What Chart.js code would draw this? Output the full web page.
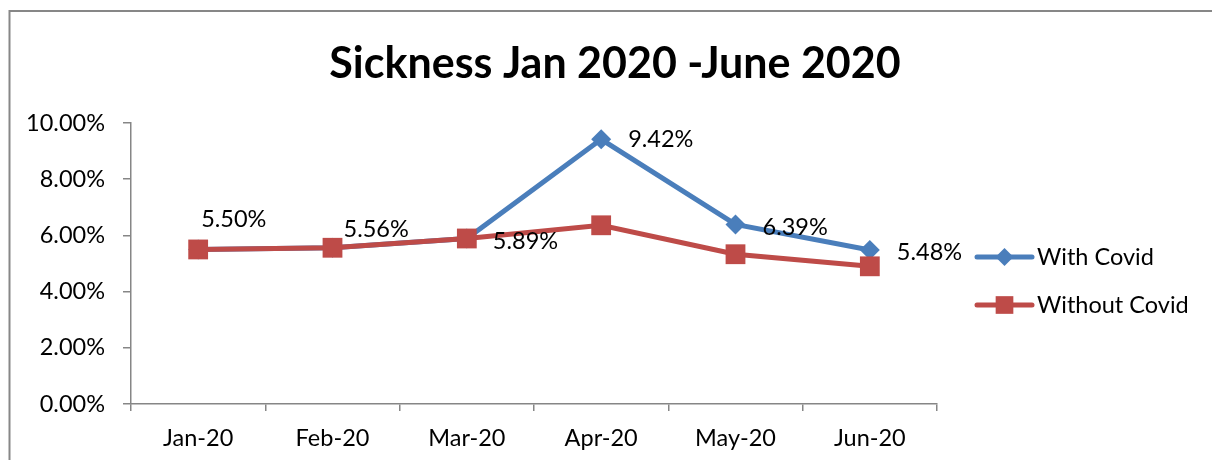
<!DOCTYPE html>
<html>
<head>
<meta charset="utf-8">
<title>Sickness Jan 2020 - June 2020</title>
<script src="https://cdn.jsdelivr.net/npm/chart.js@4"></script>
<style>
  html, body { margin: 0; padding: 0; background: #fff; }
  canvas { display: block; }
</style>
</head>
<body>
<canvas id="sicknessChart" width="1212" height="460"></canvas>
<script>
const months = ['Jan-20', 'Feb-20', 'Mar-20', 'Apr-20', 'May-20', 'Jun-20'];
const withCovid = [5.50, 5.56, 5.89, 9.42, 6.39, 5.48];
const withoutCovid = [5.50, 5.56, 5.89, 6.36, 5.33, 4.90];
const yTicks = [0, 2, 4, 6, 8, 10];
const chartTitle = 'Sickness Jan 2020 -June 2020';

const FONT = 'Lato, "Noto Sans", sans-serif';
const TEXT_SIZE = 23.5;
const axisGrey = '#868686';
const blue = '#4A7EBB';
const red = '#BE4B48';

// value label placement relative to its point: [dx to left edge, dy to middle]
const labelOffsets = [[3, -30], [11, -18], [26, 3], [27, 0], [27, 3], [27, 2]];

const pct = v => Number(v).toFixed(2) + '%';

// grey frame around the whole chart, plus the title centred on the page
const frame = {
  id: 'frame',
  beforeDraw(chart) {
    const ctx = chart.ctx;
    ctx.save();
    ctx.fillStyle = '#fff';
    ctx.fillRect(0, 0, chart.width, chart.height);
    ctx.strokeStyle = '#878787';
    ctx.lineWidth = 2;
    ctx.strokeRect(9.5, 11, chart.width + 20, chart.height + 20);
    ctx.fillStyle = '#000';
    ctx.font = 'bold 43px ' + FONT;
    ctx.textAlign = 'center';
    ctx.textBaseline = 'middle';
    ctx.fillText(chartTitle, 615, 64);
    ctx.restore();
  }
};

// percentages next to the "With Covid" points
const valueLabels = {
  id: 'valueLabels',
  afterDatasetsDraw(chart) {
    const ctx = chart.ctx;
    const meta = chart.getDatasetMeta(0);
    ctx.save();
    ctx.font = TEXT_SIZE + 'px ' + FONT;
    ctx.fillStyle = '#000';
    ctx.textAlign = 'left';
    ctx.textBaseline = 'middle';
    meta.data.forEach((pt, i) => {
      const [dx, dy] = labelOffsets[i];
      ctx.fillText(pct(withCovid[i]), pt.x + dx, pt.y + dy);
    });
    ctx.restore();
  }
};

function marker(ctx, style, x, y, r) {
  ctx.beginPath();
  if (style === 'rectRot') {
    ctx.moveTo(x, y - r);
    ctx.lineTo(x + r, y);
    ctx.lineTo(x, y + r);
    ctx.lineTo(x - r, y);
  } else {
    const h = r * Math.SQRT1_2;
    ctx.rect(x - h, y - h, 2 * h, 2 * h);
  }
  ctx.closePath();
  ctx.fill();
}

// legend on the right: line with marker, then the name
const sideLegend = {
  id: 'sideLegend',
  afterDraw(chart) {
    const ctx = chart.ctx;
    const area = chart.chartArea;
    const x0 = area.right + 40, x1 = x0 + 55;
    ctx.save();
    chart.data.datasets.forEach((ds, i) => {
      const y = area.top + 134 + i * 48;
      ctx.strokeStyle = ds.borderColor;
      ctx.fillStyle = ds.borderColor;
      ctx.lineWidth = 5;
      ctx.lineCap = 'round';
      ctx.beginPath();
      ctx.moveTo(x0, y);
      ctx.lineTo(x1, y);
      ctx.stroke();
      marker(ctx, ds.pointStyle, (x0 + x1) / 2, y, ds.pointStyle === 'rectRot' ? 9 : 12.5);
      ctx.fillStyle = '#000';
      ctx.font = TEXT_SIZE + 'px ' + FONT;
      ctx.textAlign = 'left';
      ctx.textBaseline = 'middle';
      ctx.fillText(ds.label, x1 + 5, y);
    });
    ctx.restore();
  }
};

new Chart(document.getElementById('sicknessChart'), {
  type: 'line',
  data: {
    labels: months,
    datasets: [
      {
        label: 'With Covid',
        data: withCovid,
        borderColor: blue,
        backgroundColor: blue,
        borderWidth: 5,
        pointStyle: 'rectRot',
        pointRadius: 10,
        pointBorderWidth: 0,
        tension: 0,
        order: 1
      },
      {
        label: 'Without Covid',
        data: withoutCovid,
        borderColor: red,
        backgroundColor: red,
        borderWidth: 5,
        pointStyle: 'rect',
        pointRadius: 14,
        pointBorderWidth: 0,
        tension: 0,
        order: 0
      }
    ]
  },
  options: {
    responsive: false,
    animation: false,
    devicePixelRatio: 1,
    layout: { padding: { left: 0, right: 275, top: 123, bottom: 0 } },
    plugins: {
      legend: { display: false },
      tooltip: { enabled: false },
      title: { display: false }
    },
    scales: {
      x: {
        offset: true,
        grid: {
          drawOnChartArea: false,
          drawTicks: true,
          tickLength: 7,
          color: axisGrey,
          lineWidth: 1.5,
          offset: true
        },
        border: { color: axisGrey, width: 1.5 },
        ticks: { color: '#000', font: { family: FONT, size: TEXT_SIZE }, padding: 13, maxRotation: 0 },
        afterFit(s) { s.height = 56; }
      },
      y: {
        min: 0,
        max: 10,
        afterBuildTicks(s) { s.ticks = yTicks.map(v => ({ value: v })); },
        grid: {
          drawOnChartArea: false,
          drawTicks: true,
          tickLength: 8,
          color: axisGrey,
          lineWidth: 1.5
        },
        border: { color: axisGrey, width: 1.5 },
        ticks: { color: '#000', font: { family: FONT, size: TEXT_SIZE }, padding: 18, callback: v => pct(v) },
        afterFit(s) { s.width = 131; }
      }
    }
  },
  plugins: [frame, valueLabels, sideLegend]
});
</script>
</body>
</html>
